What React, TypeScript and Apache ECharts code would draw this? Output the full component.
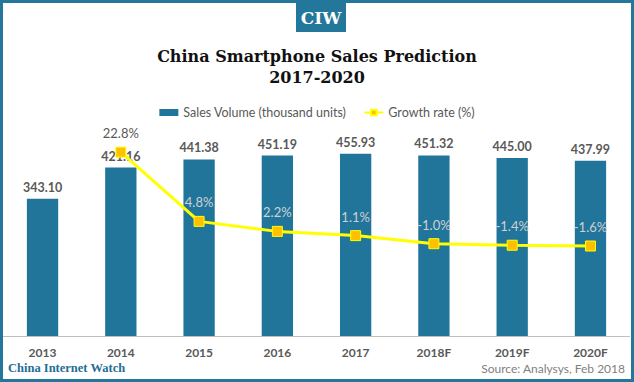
import React, { useEffect, useRef } from "react";
import * as echarts from "echarts";

const categories = ["2013", "2014", "2015", "2016", "2017", "2018F", "2019F", "2020F"];
const salesVolume = [343.1, 421.16, 441.38, 451.19, 455.93, 451.32, 445.0, 437.99];
const growthRate: (number | null)[] = [null, 22.8, 4.8, 2.2, 1.1, -1.0, -1.4, -1.6];

const BLUE = "#21759b";
const GRAY = "#595959";

export default function App() {
  const ref = useRef<HTMLDivElement>(null);
  useEffect(() => {
    if (!ref.current) return;
    const chart = echarts.init(ref.current, undefined, { renderer: "svg" });
    const sansFont = "Lato";
    chart.setOption({
      animation: false,
      backgroundColor: "#ffffff",
      graphic: [
        {
          type: "rect",
          shape: { x: 1.5, y: 1.5, width: 631, height: 379 },
          style: { fill: "none", stroke: "#23779a", lineWidth: 3 },
          z: 100,
        },
        {
          type: "rect",
          shape: { x: 296, y: 3, width: 50, height: 29 },
          style: { fill: "#23779a" },
        },
        {
          type: "text",
          x: 321,
          y: 18,
          style: {
            text: "CIW",
            fill: "#ffffff",
            font: "bold 17px 'DejaVu Serif'",
            align: "center",
            verticalAlign: "middle",
          },
        },
        {
          type: "text",
          x: 317,
          y: 56,
          style: {
            text: "China Smartphone Sales Prediction",
            fill: "#111111",
            font: "bold 16px 'DejaVu Serif'",
            align: "center",
            verticalAlign: "middle",
          },
        },
        {
          type: "text",
          x: 317,
          y: 77,
          style: {
            text: "2017-2020",
            fill: "#111111",
            font: "bold 16px 'DejaVu Serif'",
            align: "center",
            verticalAlign: "middle",
          },
        },
        {
          type: "text",
          x: 8,
          y: 368,
          style: {
            text: "China Internet Watch",
            fill: "#1f6e94",
            font: "bold 12.5px 'Liberation Serif'",
            align: "left",
            verticalAlign: "middle",
          },
        },
        {
          type: "text",
          x: 625,
          y: 368,
          style: {
            text: "Source: Analysys, Feb 2018",
            fill: "#7f7f7f",
            font: `12px ${sansFont}`,
            align: "right",
            verticalAlign: "middle",
          },
        },
      ],
      legend: {
        top: 101,
        left: "center",
        itemWidth: 19,
        itemHeight: 7,
        itemGap: 17,
        textStyle: { color: GRAY, fontFamily: sansFont, fontSize: 12.5 },
        data: [
          { name: "Sales Volume (thousand units)", icon: "rect" },
          { name: "Growth rate (%)" },
        ],
      },
      grid: { left: 3.4, right: 4.4, top: 136, bottom: 46 },
      xAxis: {
        type: "category",
        data: categories,
        axisLine: { lineStyle: { color: "#bfbfbf", width: 1 } },
        axisTick: { show: false },
        axisLabel: {
          color: GRAY,
          fontFamily: sansFont,
          fontWeight: "bold",
          fontSize: 12,
          margin: 10,
        },
      },
      yAxis: [
        { type: "value", min: 0, max: 500, show: false, splitLine: { show: false } },
        { type: "value", min: -25, max: 27, show: false, splitLine: { show: false } },
      ],
      series: [
        {
          name: "Sales Volume (thousand units)",
          type: "bar",
          data: salesVolume,
          barWidth: "40%",
          itemStyle: { color: BLUE },
          label: {
            show: true,
            position: "top",
            distance: 5,
            color: GRAY,
            fontFamily: sansFont,
            fontWeight: "bold",
            fontSize: 12.5,
            formatter: (p: any) => Number(p.value).toFixed(2),
          },
        },
        {
          name: "Growth rate (%)",
          type: "line",
          yAxisIndex: 1,
          data: growthRate.map((v, i) =>
            i === 1
              ? { value: v, label: { color: GRAY } }
              : { value: v }
          ),
          symbol: "rect",
          symbolSize: 10,
          lineStyle: { color: "#ffff00", width: 3 },
          itemStyle: { color: "#ffc000", borderColor: "#ffff00", borderWidth: 1 },
          z: 5,
          label: {
            show: true,
            position: "top",
            distance: 7,
            color: "#d0d0d0",
            fontFamily: sansFont,
            fontSize: 13,
            formatter: (p: any) => (p.value == null ? "" : Number(p.value).toFixed(1) + "%"),
          },
        },
      ],
    });
    return () => chart.dispose();
  }, []);
  return (
    <div
      ref={ref}
      style={{ position: "fixed", left: 0, top: 0, width: 634, height: 382 }}
    />
  );
}
